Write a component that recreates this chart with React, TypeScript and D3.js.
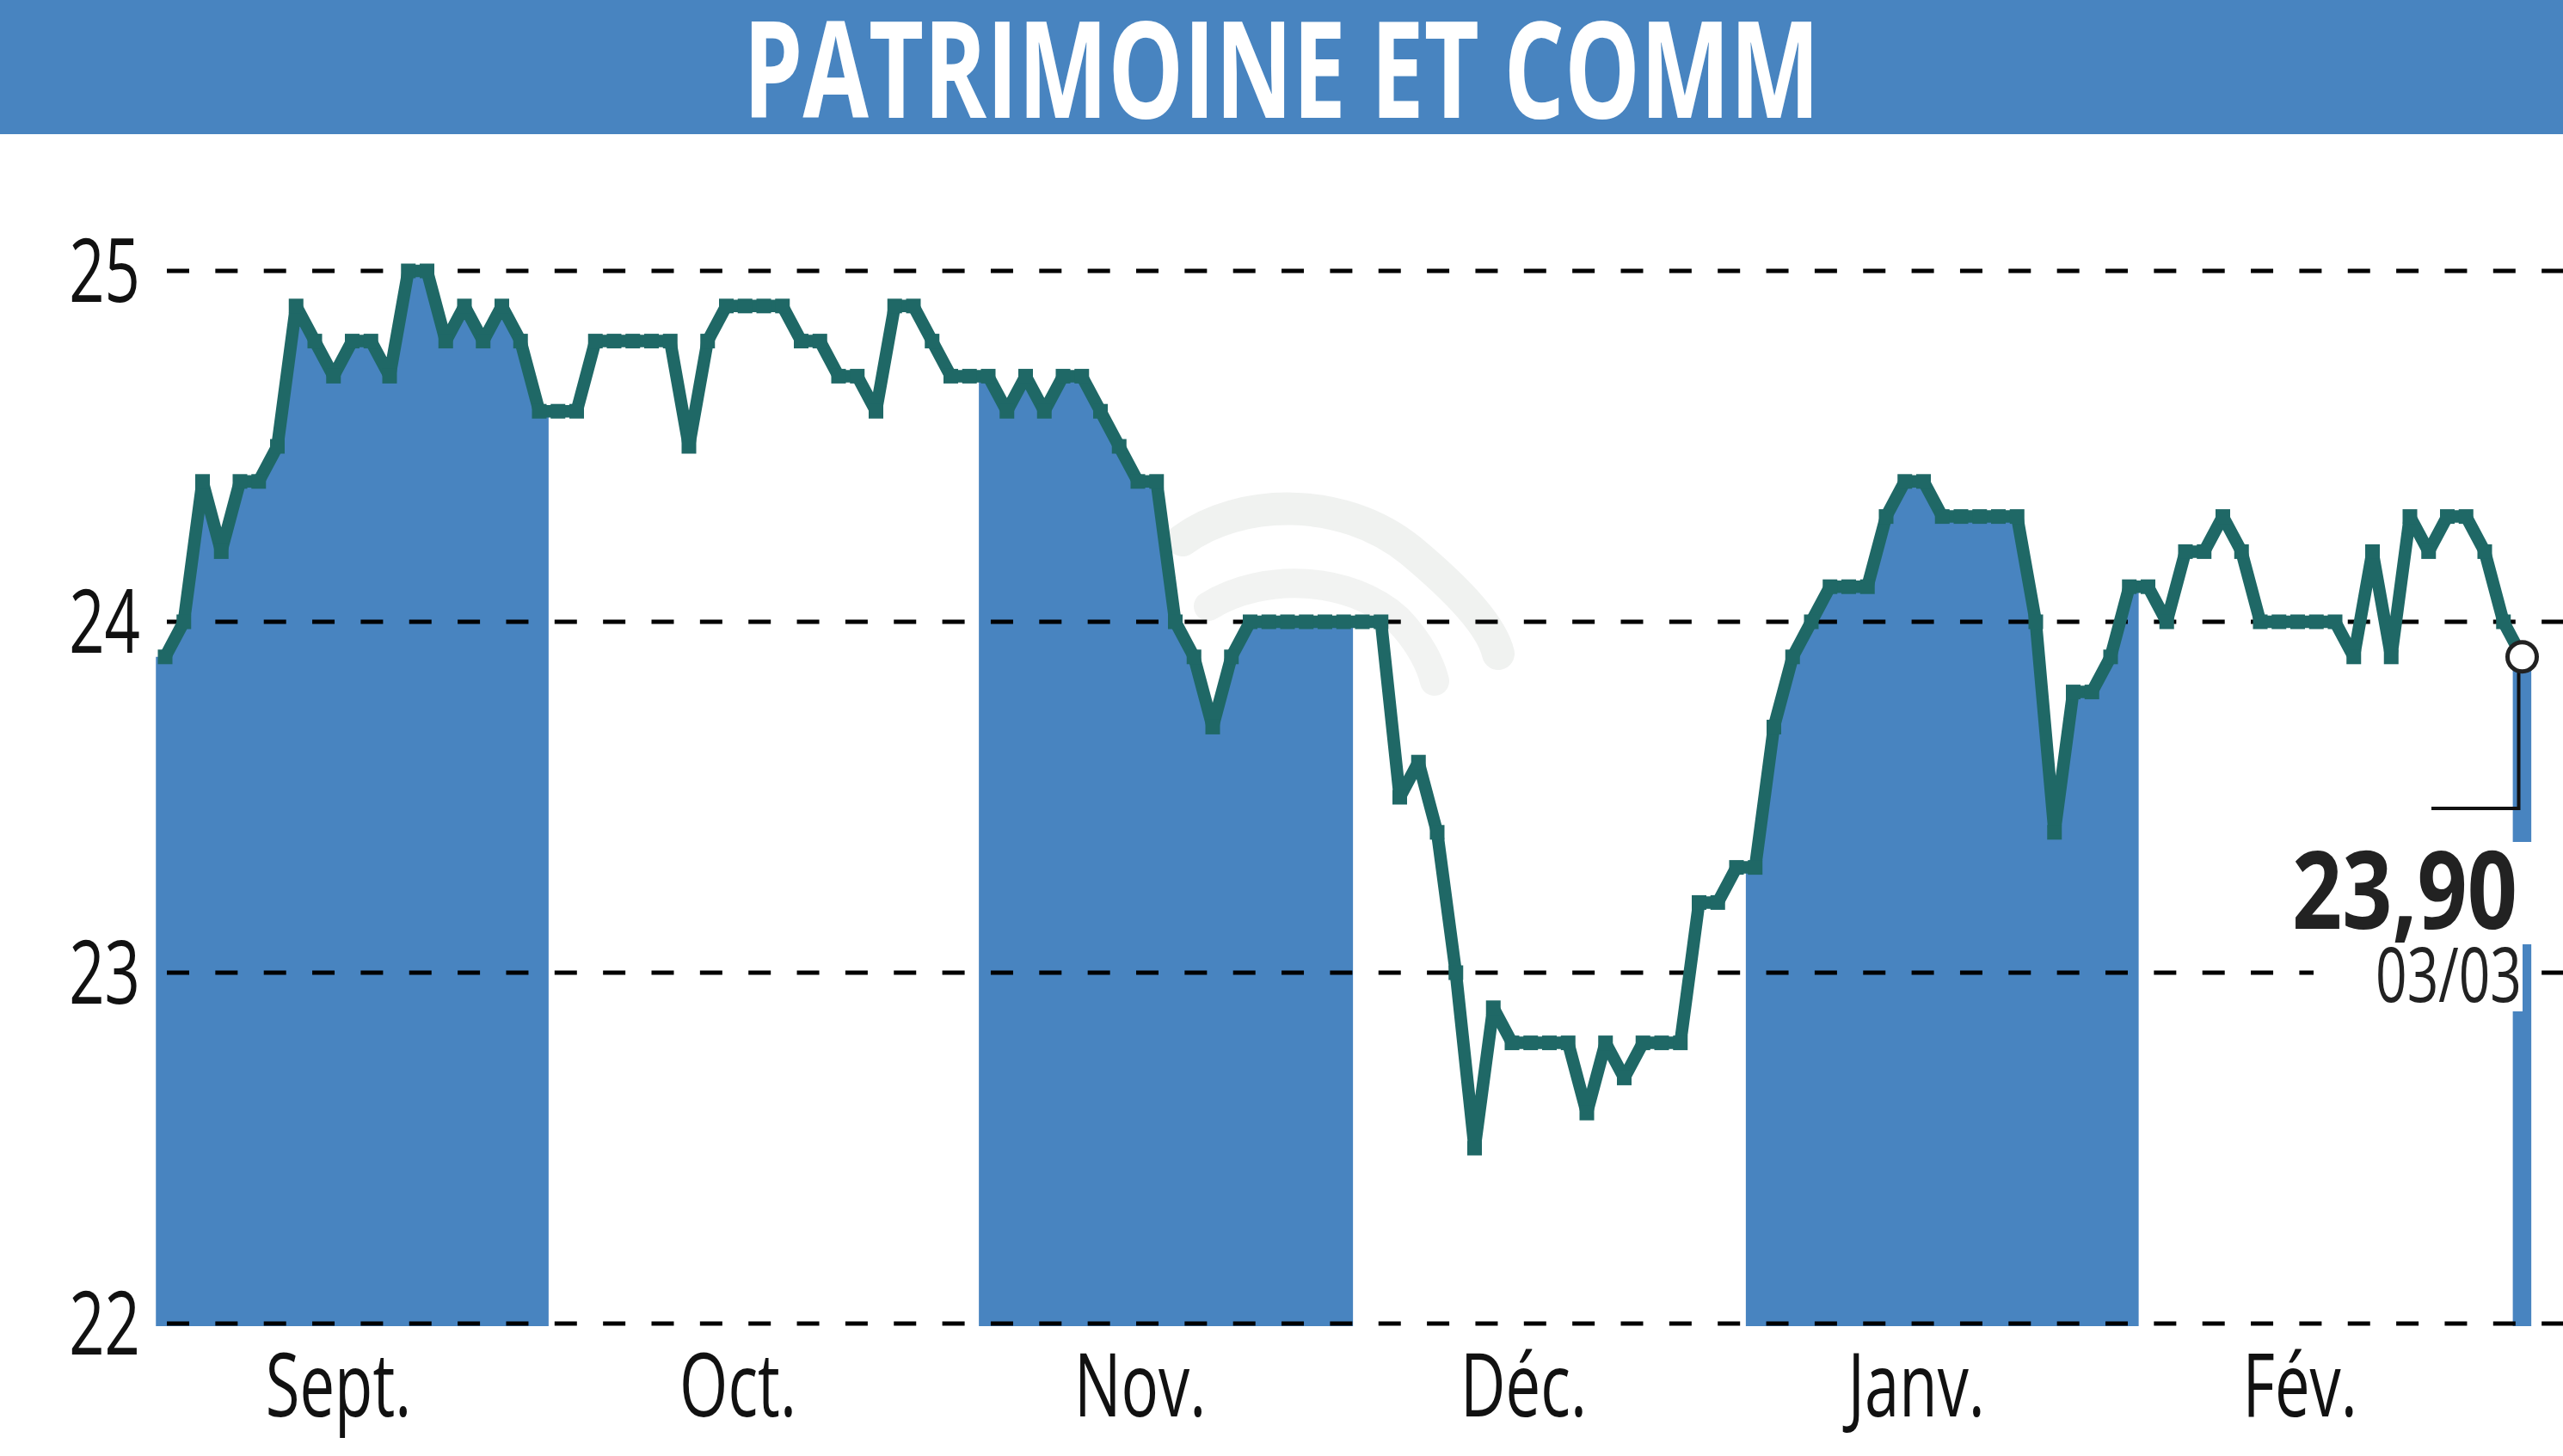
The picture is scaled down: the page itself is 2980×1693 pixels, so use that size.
import React from "react";
import * as d3 from "d3";

const TITLE = "PATRIMOINE ET COMM";
const yTicks = [22, 23, 24, 25];
const monthLabels = ["Sept.", "Oct.", "Nov.", "Déc.", "Janv.", "Fév.", "Mars"];
const monthStarts = [0, 21, 44, 64, 85, 106, 126];
const shadedMonths = [0, 2, 4, 6];
const lastValueLabel = "23,90";
const lastDateLabel = "03/03";

const prices = [
  23.9, 24.0, 24.4, 24.2, 24.4, 24.4, 24.5, 24.9, 24.8, 24.7,
  24.8, 24.8, 24.7, 25.0, 25.0, 24.8, 24.9, 24.8, 24.9, 24.8,
  24.6, 24.6, 24.6, 24.8, 24.8, 24.8, 24.8, 24.8, 24.5, 24.8,
  24.9, 24.9, 24.9, 24.9, 24.8, 24.8, 24.7, 24.7, 24.6, 24.9,
  24.9, 24.8, 24.7, 24.7, 24.7, 24.6, 24.7, 24.6, 24.7, 24.7,
  24.6, 24.5, 24.4, 24.4, 24.0, 23.9, 23.7, 23.9, 24.0, 24.0,
  24.0, 24.0, 24.0, 24.0, 24.0, 24.0, 23.5, 23.6, 23.4, 23.0,
  22.5, 22.9, 22.8, 22.8, 22.8, 22.8, 22.6, 22.8, 22.7, 22.8,
  22.8, 22.8, 23.2, 23.2, 23.3, 23.3, 23.7, 23.9, 24.0, 24.1,
  24.1, 24.1, 24.3, 24.4, 24.4, 24.3, 24.3, 24.3, 24.3, 24.3,
  24.0, 23.4, 23.8, 23.8, 23.9, 24.1, 24.1, 24.0, 24.2, 24.2,
  24.3, 24.2, 24.0, 24.0, 24.0, 24.0, 24.0, 23.9, 24.2, 23.9,
  24.3, 24.2, 24.3, 24.3, 24.2, 24.0, 23.9,
];

const BLUE = "#4884c0";
const TEAL = "#1f6866";
const FONT = "'Open Sans', 'Liberation Sans', 'DejaVu Sans', sans-serif";

export default function App() {
  const W = 2980;
  const H = 1693;
  const n = prices.length;
  const x = d3.scaleLinear().domain([0, n - 1]).range([192, 2932.5]);
  const y = d3.scaleLinear().domain([22, 25]).range([1539, 315]);

  const pts: [number, number][] = prices.map((v, i) => [x(i), y(v)]);
  const linePath = d3.line()(pts) || "";
  const ext: [number, number][] = [
    [x(-0.5), y(prices[0])],
    ...pts,
    [x(n - 0.5), y(prices[n - 1])],
  ];
  const areaPath =
    d3
      .area<[number, number]>()
      .x((d) => d[0])
      .y0(y(22) + 3)
      .y1((d) => d[1])(ext) || "";

  const bandBounds = monthStarts.map((s, k) => {
    const e = k + 1 < monthStarts.length ? monthStarts[k + 1] : n;
    return [x(s - 0.5), x(e - 0.5)];
  });

  const last = pts[n - 1];
  const sx = 0.71;

  return (
    <svg
      width={W}
      height={H}
      viewBox={`0 0 ${W} ${H}`}
      style={{ position: "absolute", left: 0, top: 0, background: "#fff" }}
    >
      <defs>
        {shadedMonths.map((k) => (
          <clipPath id={`band${k}`} key={k}>
            <rect
              x={bandBounds[k][0]}
              y={0}
              width={bandBounds[k][1] - bandBounds[k][0]}
              height={H}
            />
          </clipPath>
        ))}
      </defs>
      <rect x={0} y={0} width={W} height={H} fill="#fff" />

      {/* title banner */}
      <rect x={0} y={0} width={W} height={156} fill={BLUE} />
      <text
        x={1490}
        y={137}
        fill="#fff"
        fontFamily={FONT}
        fontWeight={700}
        fontSize={157}
        textAnchor="middle"
        textLength={1252}
        lengthAdjust="spacingAndGlyphs"
      >
        {TITLE}
      </text>

      {/* watermark */}
      <g fill="none" strokeLinecap="round" opacity={0.75}>
        <path
          d="M1375,628 C1440,580 1560,575 1640,640 C1700,690 1735,730 1742,760"
          stroke="#eceeec"
          strokeWidth={38}
        />
        <path
          d="M1405,705 C1470,665 1570,670 1625,720 C1652,748 1664,775 1668,792"
          stroke="#eef0ee"
          strokeWidth={34}
        />
      </g>

      {/* shaded month areas */}
      {shadedMonths.map((k) => (
        <path key={k} d={areaPath} fill={BLUE} clipPath={`url(#band${k})`} />
      ))}

      {/* grid lines */}
      {yTicks.map((t) => (
        <line
          key={t}
          x1={194}
          x2={W}
          y1={y(t)}
          y2={y(t)}
          stroke="#000"
          strokeWidth={5}
          strokeDasharray="26 30.35"
        />
      ))}

      {/* y labels */}
      {yTicks.map((t) => (
        <text
          key={t}
          transform={`translate(163,${y(t) + 36}) scale(${sx},1)`}
          textAnchor="end"
          fontFamily={FONT}
          fontSize={102}
          fill="#111"
        >
          {String(t)}
        </text>
      ))}

      {/* month labels */}
      {monthLabels.slice(0, 6).map((m, k) => {
        const cx =
          (bandBounds[k][0] + bandBounds[k][1]) / 2 - 30 + (k === 0 ? 14 : 0);
        return (
          <text
            key={m}
            transform={`translate(${cx},1647) scale(${sx},1)`}
            textAnchor="middle"
            fontFamily={FONT}
            fontSize={102}
            fill="#111"
          >
            {m}
          </text>
        );
      })}

      {/* price line */}
      <path
        d={linePath}
        fill="none"
        stroke={TEAL}
        strokeWidth={14.5}
        strokeLinejoin="miter"
        strokeMiterlimit={2}
      />
      {pts.map((p, i) => (
        <rect
          key={i}
          x={p[0] - 8.5}
          y={p[1] - 8.5}
          width={17}
          height={17}
          fill={TEAL}
        />
      ))}

      {/* last value callout */}
      <rect x={2630} y={979} width={320} height={119} fill="#fff" />
      <rect x={2690} y={1098} width={243} height={78} fill="#fff" />
      <path
        d={`M${last[0] - 4},${last[1] + 12} V940 H2827`}
        fill="none"
        stroke="#111"
        strokeWidth={4}
      />
      <circle
        cx={last[0]}
        cy={last[1]}
        r={17}
        fill="#fff"
        stroke="#222"
        strokeWidth={5}
      />
      <text
        x={2927}
        y={1080}
        textAnchor="end"
        fontFamily={FONT}
        fontWeight={700}
        fontSize={125}
        fill="#222"
        textLength={262}
        lengthAdjust="spacingAndGlyphs"
      >
        {lastValueLabel}
      </text>
      <text
        x={2932}
        y={1165}
        textAnchor="end"
        fontFamily={FONT}
        fontSize={87}
        fill="#222"
        textLength={170}
        lengthAdjust="spacingAndGlyphs"
      >
        {lastDateLabel}
      </text>
    </svg>
  );
}
